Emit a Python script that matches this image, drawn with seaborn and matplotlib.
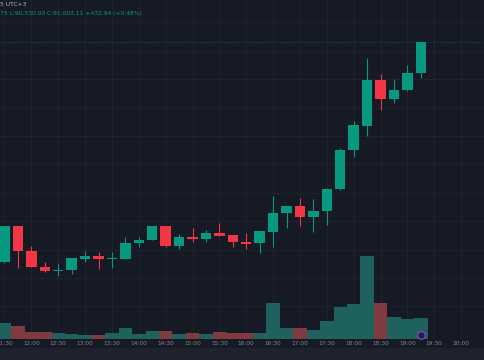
import numpy as np
import matplotlib
matplotlib.use("Agg")
import matplotlib.pyplot as plt
import seaborn as sns

# 15 minute candles, 11:30 .. 19:15
opens = [88112, 88589, 88257, 88051, 87994, 88003, 88156, 88195, 88152, 88156,
         88358, 88401, 88585, 88327, 88437, 88415, 88493, 88463, 88379, 88358,
         88510, 88752, 88852, 88700, 88782, 89071, 89588, 89903, 90500, 90254,
         90372, 90596]
highs = [88590, 88589, 88327, 88116, 88103, 88161, 88257, 88240, 88244, 88441,
         88445, 88585, 88590, 88484, 88563, 88533, 88625, 88468, 88489, 88524,
         88980, 88852, 88957, 88936, 89075, 89610, 89965, 90793, 90579, 90513,
         90701, 91010]
lows = [88105, 88030, 88045, 87977, 87932, 87951, 88112, 88024, 88030, 88150,
        88309, 88395, 88309, 88283, 88375, 88375, 88454, 88313, 88279, 88227,
        88313, 88563, 88585, 88507, 88598, 89054, 89492, 89764, 90110, 90206,
        90365, 90530]
closes = [88585, 88257, 88051, 87998, 88007, 88161, 88195, 88152, 88165, 88362,
          88405, 88585, 88323, 88437, 88411, 88489, 88458, 88375, 88353, 88516,
          88756, 88852, 88700, 88782, 89075, 89584, 89909, 90500, 90254, 90376,
          90596, 91003]
volumes = [63, 53, 29, 27, 24, 19, 17, 17, 23, 43,
           19, 32, 31, 20, 24, 21, 29, 23, 24, 23,
           143, 44, 43, 36, 72, 128, 140, 332, 143, 89,
           80, 84]
tick_labels = ["11:30", "12:00", "12:30", "13:00", "13:30", "14:00", "14:30",
               "15:00", "15:30", "16:00", "16:30", "17:00", "17:30", "18:00",
               "18:30", "19:00", "19:30", "20:00"]
last_price = 91003.11

bg = "#161a25"
up, down = "#089981", "#f23645"
up_vol, down_vol = "#1f615c", "#813a3f"
grid_c = "#1f2330"

sns.set_theme(style="dark", rc={"axes.facecolor": bg, "figure.facecolor": bg,
                                "grid.color": grid_c, "text.color": "#b2b5be",
                                "xtick.color": "#80848e"})

o = np.array(opens); c = np.array(closes)
idx = np.arange(len(opens))
rising = c >= o
direction = np.where(rising, "up", "down")

p_lo, p_hi = 87100, 91555
v_hi = 1356

fig = plt.figure(figsize=(4.85, 3.6), dpi=100)
fig.patches.append(plt.Rectangle((0, 0), 1, 12 / 360, transform=fig.transFigure,
                                 color="#1f222c", zorder=0))
vax = fig.add_axes([0, 21 / 360, 1, 339 / 360])

# horizontal grid drawn under the volume bars, at price levels
for p in np.arange(87530, p_hi, 373):
    vax.axhline((p - p_lo) / (p_hi - p_lo) * v_hi, color=grid_c, linewidth=0.7, zorder=0)

sns.barplot(x=idx, y=volumes, hue=direction, palette={"up": up_vol, "down": down_vol},
            native_scale=True, dodge=False, width=1.0, saturation=1, legend=False,
            linewidth=0, ax=vax)
vax.set_ylim(0, v_hi)
vax.set_xlim(-0.335, 35.78)
vax.scatter([31], [16], s=30, facecolor="#2b1b4c", edgecolor="#7e4fd0", linewidth=0.8, zorder=5)

pax = vax.twinx()
pax.set_ylim(p_lo, p_hi)
cols = np.where(rising, up, down)
pax.vlines(idx, lows, highs, colors=cols, linewidth=0.8)
body = np.maximum(np.abs(c - o), 13)
pax.bar(idx, body, bottom=np.minimum(o, c), width=0.78, color=cols, linewidth=0)
pax.axhline(last_price, color=up, alpha=0.45, linewidth=0.7, linestyle=(0, (1, 1.5)))
pax.tick_params(axis="y", right=False, labelright=False, length=0)
pax.grid(False)

vax.set_xticks(np.arange(0, 35, 2))
vax.set_xticklabels(tick_labels, fontsize=4.2)
vax.tick_params(axis="x", length=0, pad=1.2)
vax.tick_params(axis="y", left=False, labelleft=False)
vax.grid(axis="x", color=grid_c, linewidth=0.7)
vax.grid(axis="y", visible=False)
vax.set_axisbelow(True)
vax.set_xlabel(""); vax.set_ylabel("")
for a in (vax, pax):
    for s in a.spines.values():
        s.set_visible(False)

fig.text(0.0, 1 - 5 / 360, "5 UTC+3", fontsize=4.3, color="#b2b5be", va="center")
fig.text(0.0, 1 - 14 / 360, "75 L:90,530.00 C:91,003.11 +432.94 (+0.48%)",
         fontsize=4.3, color=up, va="center")

fig.savefig("out.png", dpi=100, facecolor=bg)
